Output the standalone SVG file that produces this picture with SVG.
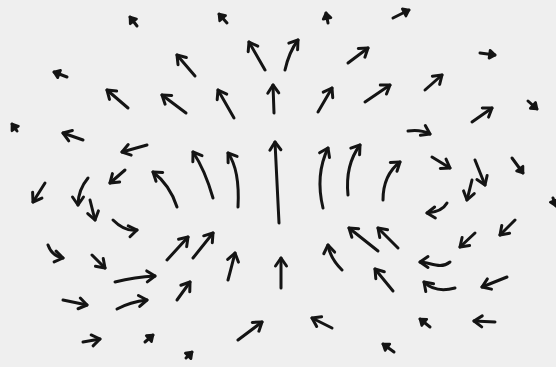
<svg xmlns="http://www.w3.org/2000/svg" width="556" height="367" viewBox="0 0 556 367">
<style>
.a{fill:none;stroke:#141414;stroke-width:3;stroke-linecap:round;stroke-linejoin:round;marker-end:url(#ah)}
.s{fill:none;stroke:#141414;stroke-width:3;stroke-linecap:round;stroke-linejoin:round;marker-end:url(#as)}
</style>
<defs>
<marker id="ah" viewBox="-12 -8 14 16" refX="0" refY="0" markerWidth="14" markerHeight="16" markerUnits="userSpaceOnUse" orient="auto" overflow="visible">
<path d="M-8,-5.5 L0,0 L-8,5.5" fill="none" stroke="#141414" stroke-width="3" stroke-linecap="round" stroke-linejoin="round"/>
</marker>
<marker id="as" viewBox="-10 -6 12 12" refX="0" refY="0" markerWidth="12" markerHeight="12" markerUnits="userSpaceOnUse" orient="auto" overflow="visible">
<path d="M-5.5,-4 L0,0 L-5.5,4 Z" fill="#141414" stroke="#141414" stroke-width="2.6" stroke-linecap="round" stroke-linejoin="round"/>
</marker>
</defs>
<rect width="556" height="367" fill="#efefef"/>
<g id="field">
<path class="s" d="M137,26 L130,17"/>
<path class="s" d="M227,23 L219,14"/>
<path class="s" d="M328,23 L326,13"/>
<path class="s" d="M393,18 L409,10"/>
<path class="s" d="M67,77 L54,72"/>
<path class="a" d="M195,76 L177,55"/>
<path class="a" d="M128,108 L107,90"/>
<path class="a" d="M186,113 L162,95"/>
<path class="a" d="M265,70 L249,42"/>
<path class="a" d="M285,70 Q289,52 298,40"/>
<path class="a" d="M348,63 L368,48"/>
<path class="s" d="M480,53 L495,55"/>
<path class="a" d="M274,113 L273,85"/>
<path class="a" d="M234,118 L218,90"/>
<path class="a" d="M318,112 L332,88"/>
<path class="a" d="M365,102 L390,85"/>
<path class="a" d="M425,90 L442,75"/>
<path class="a" d="M472,122 L492,108"/>
<path class="s" d="M528,101 L537,109"/>
<path class="s" d="M17,131 L12,124"/>
<path class="a" d="M83,140 L63,133"/>
<path class="a" d="M147,145 L122,152"/>
<path class="a" d="M408,131 Q420,129 430,134"/>
<path class="a" d="M125,170 L110,183"/>
<path class="a" d="M45,183 L33,202"/>
<path class="a" d="M88,178 Q78,190 78,205"/>
<path class="a" d="M90,200 L95,220"/>
<path class="a" d="M113,220 Q125,232 137,230"/>
<path class="a" d="M177,207 Q170,185 153,172"/>
<path class="a" d="M213,198 Q205,170 193,152"/>
<path class="a" d="M238,207 Q240,170 228,153"/>
<path class="a" d="M279,223 L275,142"/>
<path class="a" d="M323,208 Q315,175 328,148"/>
<path class="a" d="M348,195 Q345,165 360,145"/>
<path class="a" d="M383,200 Q383,175 400,162"/>
<path class="a" d="M432,157 L450,168"/>
<path class="a" d="M475,160 L485,185"/>
<path class="s" d="M512,158 L523,173"/>
<path class="a" d="M472,180 L467,200"/>
<path class="a" d="M447,203 Q442,212 427,213"/>
<path class="s" d="M553,198 L556,206"/>
<path class="a" d="M167,260 L188,237"/>
<path class="a" d="M193,258 L213,233"/>
<path class="a" d="M342,270 Q330,258 328,245"/>
<path class="a" d="M378,251 L349,228"/>
<path class="a" d="M398,248 L378,228"/>
<path class="a" d="M475,233 L460,247"/>
<path class="a" d="M515,220 L500,235"/>
<path class="a" d="M48,245 Q52,256 63,258"/>
<path class="a" d="M92,255 L105,268"/>
<path class="a" d="M115,282 Q135,277 155,276"/>
<path class="a" d="M63,300 L87,305"/>
<path class="a" d="M117,309 Q130,302 147,300"/>
<path class="a" d="M177,300 L190,282"/>
<path class="a" d="M228,280 Q232,265 235,253"/>
<path class="a" d="M281,288 L281,258"/>
<path class="a" d="M393,291 L375,269"/>
<path class="a" d="M450,262 C440,270 430,262 420,262"/>
<path class="a" d="M455,288 C440,292 430,288 424,282"/>
<path class="a" d="M507,277 L482,287"/>
<path class="a" d="M83,342 L100,339"/>
<path class="s" d="M145,342 L153,335"/>
<path class="a" d="M238,340 L262,322"/>
<path class="a" d="M332,328 L312,318"/>
<path class="s" d="M430,327 L420,319"/>
<path class="a" d="M495,322 L474,321"/>
<path class="s" d="M394,352 L383,344"/>
<path class="s" d="M186,358 L192,352"/>
</g>
</svg>
